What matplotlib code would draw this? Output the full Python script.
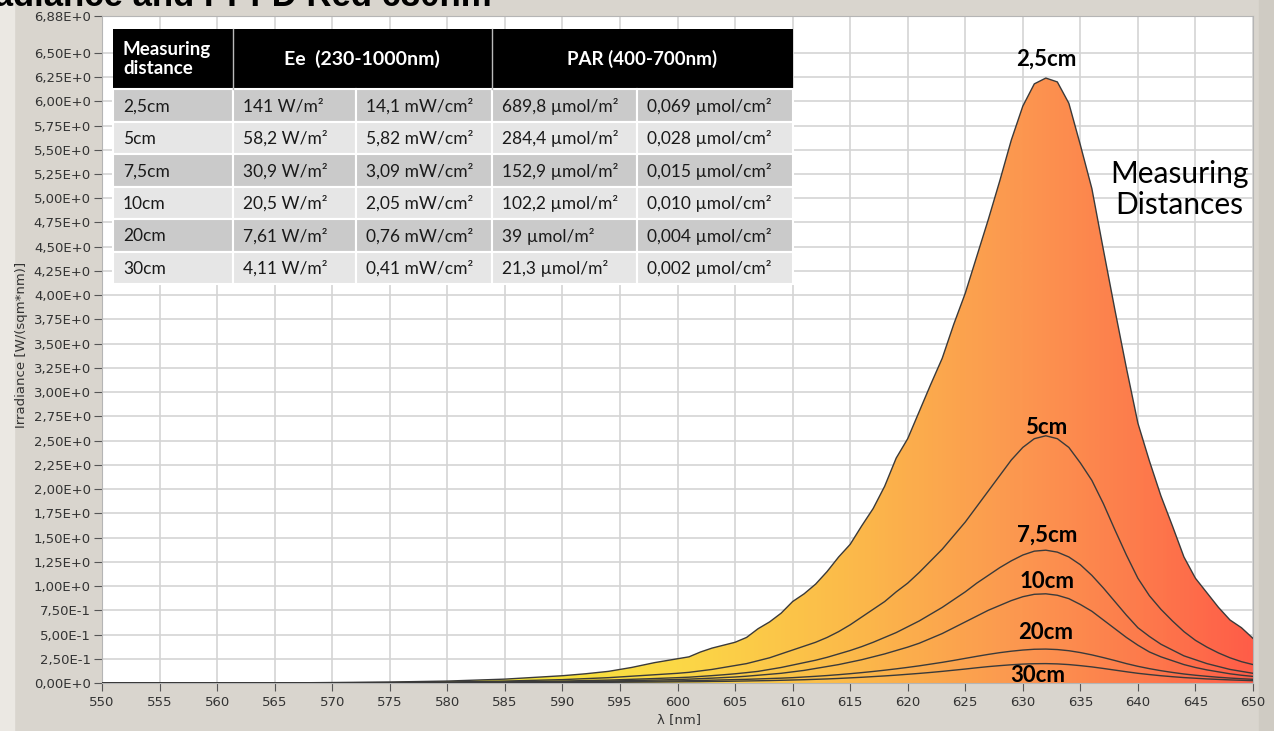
import matplotlib
matplotlib.use("Agg")
import matplotlib.pyplot as plt
from matplotlib.colors import LinearSegmentedColormap
from matplotlib.patches import Rectangle
from matplotlib.ticker import FuncFormatter
import numpy as np

# wavelength grid [nm]
wl = [550, 555, 560, 565, 570, 575, 580, 585, 590, 592, 594, 596, 598,
      600, 601, 602, 603, 604, 605, 606, 607, 608, 609, 610,
      611, 612, 613, 614, 615, 616, 617, 618, 619, 620,
      621, 622, 623, 624, 625, 626, 627, 628, 629, 630,
      631, 632, 633, 634, 635, 636, 637, 638, 639, 640,
      641, 642, 643, 644, 645, 646, 647, 648, 649, 650]

# irradiance [W/(sqm*nm)] per measuring distance
irr_2_5cm = [0.0, 0.0, 0.0, 0.0, 0.005, 0.01, 0.02, 0.04, 0.075, 0.095, 0.12, 0.16, 0.21,
             0.25, 0.27, 0.32, 0.36, 0.39, 0.42, 0.47, 0.56, 0.63, 0.72, 0.84,
             0.92, 1.02, 1.15, 1.30, 1.43, 1.62, 1.80, 2.03, 2.32, 2.52,
             2.80, 3.08, 3.35, 3.70, 4.02, 4.40, 4.78, 5.18, 5.60, 5.95,
             6.18, 6.24, 6.20, 5.98, 5.55, 5.10, 4.47, 3.85, 3.25, 2.68,
             2.29, 1.93, 1.62, 1.30, 1.08, 0.93, 0.78, 0.65, 0.57, 0.46]
irr_5cm = [0.0, 0.0, 0.0, 0.0, 0.002, 0.005, 0.01, 0.02, 0.035, 0.045, 0.055, 0.07, 0.085,
           0.10, 0.11, 0.125, 0.14, 0.16, 0.18, 0.20, 0.23, 0.26, 0.30, 0.34,
           0.38, 0.42, 0.47, 0.53, 0.60, 0.68, 0.76, 0.84, 0.94, 1.03,
           1.14, 1.26, 1.38, 1.52, 1.66, 1.82, 1.98, 2.14, 2.30, 2.43,
           2.52, 2.55, 2.52, 2.43, 2.27, 2.09, 1.85, 1.58, 1.32, 1.08,
           0.90, 0.76, 0.64, 0.53, 0.44, 0.37, 0.31, 0.26, 0.22, 0.19]
irr_7_5cm = [0.0, 0.0, 0.0, 0.0, 0.001, 0.003, 0.006, 0.012, 0.02, 0.025, 0.03, 0.038, 0.046,
             0.055, 0.06, 0.068, 0.076, 0.085, 0.095, 0.107, 0.12, 0.14, 0.16, 0.185,
             0.21, 0.235, 0.265, 0.30, 0.335, 0.375, 0.42, 0.47, 0.52, 0.58,
             0.64, 0.71, 0.78, 0.86, 0.94, 1.03, 1.11, 1.19, 1.26, 1.32,
             1.36, 1.37, 1.35, 1.30, 1.22, 1.11, 0.98, 0.84, 0.70, 0.57,
             0.48, 0.40, 0.34, 0.28, 0.24, 0.20, 0.17, 0.14, 0.12, 0.10]
irr_10cm = [0.0, 0.0, 0.0, 0.0, 0.001, 0.002, 0.004, 0.008, 0.013, 0.016, 0.02, 0.025, 0.03,
            0.036, 0.04, 0.045, 0.05, 0.056, 0.062, 0.07, 0.08, 0.09, 0.10, 0.115,
            0.13, 0.15, 0.17, 0.19, 0.215, 0.24, 0.27, 0.30, 0.335, 0.37,
            0.41, 0.46, 0.51, 0.57, 0.63, 0.69, 0.75, 0.80, 0.85, 0.89,
            0.915, 0.92, 0.905, 0.87, 0.81, 0.74, 0.65, 0.56, 0.47, 0.39,
            0.32, 0.27, 0.23, 0.19, 0.16, 0.135, 0.115, 0.095, 0.08, 0.068]
irr_20cm = [0.0, 0.0, 0.0, 0.0, 0.001, 0.002, 0.003, 0.006, 0.01, 0.012, 0.014, 0.016, 0.019,
            0.022, 0.024, 0.026, 0.029, 0.032, 0.035, 0.038, 0.042, 0.046, 0.05, 0.055,
            0.062, 0.069, 0.077, 0.086, 0.096, 0.107, 0.119, 0.132, 0.146, 0.161,
            0.177, 0.195, 0.213, 0.233, 0.254, 0.275, 0.295, 0.313, 0.328, 0.34,
            0.348, 0.35, 0.345, 0.333, 0.314, 0.29, 0.262, 0.232, 0.20, 0.172,
            0.148, 0.127, 0.109, 0.093, 0.08, 0.069, 0.059, 0.051, 0.044, 0.038]
irr_30cm = [0.0, 0.0, 0.0, 0.0, 0.0005, 0.001, 0.002, 0.003, 0.005, 0.006, 0.007, 0.009, 0.01,
            0.012, 0.013, 0.014, 0.016, 0.017, 0.019, 0.021, 0.023, 0.025, 0.028, 0.031,
            0.034, 0.038, 0.042, 0.047, 0.053, 0.059, 0.066, 0.073, 0.081, 0.09,
            0.099, 0.109, 0.12, 0.132, 0.144, 0.157, 0.169, 0.179, 0.188, 0.195,
            0.199, 0.20, 0.197, 0.19, 0.179, 0.166, 0.15, 0.133, 0.116, 0.10,
            0.087, 0.075, 0.065, 0.056, 0.049, 0.042, 0.037, 0.032, 0.028, 0.024]

series = [irr_2_5cm, irr_5cm, irr_7_5cm, irr_10cm, irr_20cm, irr_30cm]
curve_labels = ["2,5cm", "5cm", "7,5cm", "10cm", "20cm", "30cm"]
label_pos = [(632.0, 6.43), (632.0, 2.64), (632.1, 1.52), (632.1, 1.05), (632.0, 0.52), (631.3, 0.08)]

# table contents
tbl_dist = ["2,5cm", "5cm", "7,5cm", "10cm", "20cm", "30cm"]
tbl_ee_m2 = ["141 W/m²", "58,2 W/m²", "30,9 W/m²", "20,5 W/m²", "7,61 W/m²", "4,11 W/m²"]
tbl_ee_cm2 = ["14,1 mW/cm²", "5,82 mW/cm²", "3,09 mW/cm²", "2,05 mW/cm²", "0,76 mW/cm²", "0,41 mW/cm²"]
tbl_par_m2 = ["689,8 µmol/m²", "284,4 µmol/m²", "152,9 µmol/m²", "102,2 µmol/m²", "39 µmol/m²", "21,3 µmol/m²"]
tbl_par_cm2 = ["0,069 µmol/cm²", "0,028 µmol/cm²", "0,015 µmol/cm²", "0,010 µmol/cm²", "0,004 µmol/cm²", "0,002 µmol/cm²"]

yticks = [0.25 * i for i in range(27)] + [6.88]
xticks = list(range(550, 651, 5))

W, H = 1274, 731
fig = plt.figure(figsize=(W / 100, H / 100), dpi=100, facecolor="#d9d5ce")

# window-like side strips
fig.patches.append(Rectangle((0, 0), 14 / W, 1, transform=fig.transFigure, color="#ebe8e3", zorder=-1))
fig.patches.append(Rectangle((1259 / W, 0), 15 / W, 1, transform=fig.transFigure, color="#cfcbc3", zorder=-1))

ax = fig.add_axes([102 / W, 1 - 683 / H, (1253 - 102) / W, (683 - 16) / H])
ax.set_facecolor("white")
ax.set_xlim(550, 650)
ax.set_ylim(0, 6.88)
ax.set_xticks(xticks)
ax.set_yticks(yticks)
ax.grid(True, color="#d4d4d4", linewidth=1.2)
ax.set_axisbelow(True)
for s in ax.spines.values():
    s.set_color("#b5b5b5")


def sci_label(v, pos=None):
    if v == 0:
        return "0,00E+0"
    e = int(np.floor(np.log10(v)))
    return ("%.2fE%+d" % (v / 10 ** e, e)).replace(".", ",")


ax.yaxis.set_major_formatter(FuncFormatter(sci_label))
ax.tick_params(axis="both", direction="out", length=6, color="#555555",
               labelsize=9.5, labelcolor="#333333")
ax.tick_params(axis="y", pad=2)

# gradient fill under the 2.5cm curve
grad_cmap = LinearSegmentedColormap.from_list("led", [
    (0.00, "#f2ec38"), (0.35, "#f5e63a"), (0.50, "#fcd846"), (0.65, "#fbba4a"),
    (0.80, "#fc9750"), (0.90, "#fd7c4c"), (1.00, "#ff5d48")])
poly = ax.fill_between(wl, irr_2_5cm, 0, facecolor="none", edgecolor="none")
grad = np.linspace(0, 1, 600).reshape(1, -1)
im = ax.imshow(grad, extent=[550, 650, 0, 6.88], aspect="auto", cmap=grad_cmap,
               origin="lower", zorder=2)
im.set_clip_path(poly.get_paths()[0], transform=ax.transData)

for ys in series:
    ax.plot(wl, ys, color="#3a3a3a", linewidth=1.0, zorder=3)

for txt, (x, y) in zip(curve_labels, label_pos):
    ax.text(x, y, txt, ha="center", va="center", fontsize=16, fontweight="bold",
            family="Lato", color="black", zorder=4)

ax.text(643.6, 5.09, "Measuring\nDistances", ha="center", va="center", fontsize=21.5,
        family="Lato", color="black", linespacing=1.15, zorder=4)

fig.text(22 / W, 1 - 345 / H, "Irradiance [W/(sqm*nm)]", rotation=90, ha="center",
         va="center", fontsize=9.5, family="Liberation Sans Narrow", color="#333333")
fig.text(679 / W, 1 - 720 / H, "λ [nm]", ha="center", va="center", fontsize=9.5,
         color="#333333")
fig.text(492 / W, 1 - 6 / H, "Irradiance and PPFD Red 630nm", ha="right", va="baseline",
         fontsize=25, fontweight="bold", family="Liberation Sans", color="black")

# overlay table in pixel coordinates
tax = fig.add_axes([0, 0, 1, 1], zorder=5)
tax.set_xlim(0, W)
tax.set_ylim(H, 0)
tax.axis("off")
tax.patch.set_alpha(0)

col_edges = [113, 233, 356, 492, 637, 793]
top, head_h, row_h = 29, 60, 32.5
tax.add_patch(Rectangle((col_edges[0], top), col_edges[-1] - col_edges[0], head_h,
                        facecolor="black", edgecolor="none"))
for xe in (233, 492):
    tax.plot([xe, xe], [top, top + head_h], color="#bbbbbb", lw=1)
tax.text(123, top + head_h / 2, "Measuring\ndistance", ha="left", va="center", color="white",
         fontsize=13.5, fontweight="bold", family="Lato", linespacing=1.1)
tax.text(362, top + head_h / 2, "Ee  (230-1000nm)", ha="center", va="center", color="white",
         fontsize=14, fontweight="bold", family="Lato")
tax.text(642, top + head_h / 2, "PAR (400-700nm)", ha="center", va="center", color="white",
         fontsize=13.5, fontweight="bold", family="Lato")

columns = [tbl_dist, tbl_ee_m2, tbl_ee_cm2, tbl_par_m2, tbl_par_cm2]
for r in range(6):
    y0 = top + head_h + r * row_h
    fc = "#cacaca" if r % 2 == 0 else "#e6e6e6"
    for c in range(5):
        x0 = col_edges[c]
        tax.add_patch(Rectangle((x0, y0), col_edges[c + 1] - x0, row_h, facecolor=fc,
                                edgecolor="white", linewidth=1.5))
        tax.text(x0 + 10, y0 + row_h / 2 + 1, columns[c][r], ha="left", va="center",
                 fontsize=12.5, family="Lato", color="#1a1a1a")

fig.savefig("out.png", dpi=100, facecolor=fig.get_facecolor())
